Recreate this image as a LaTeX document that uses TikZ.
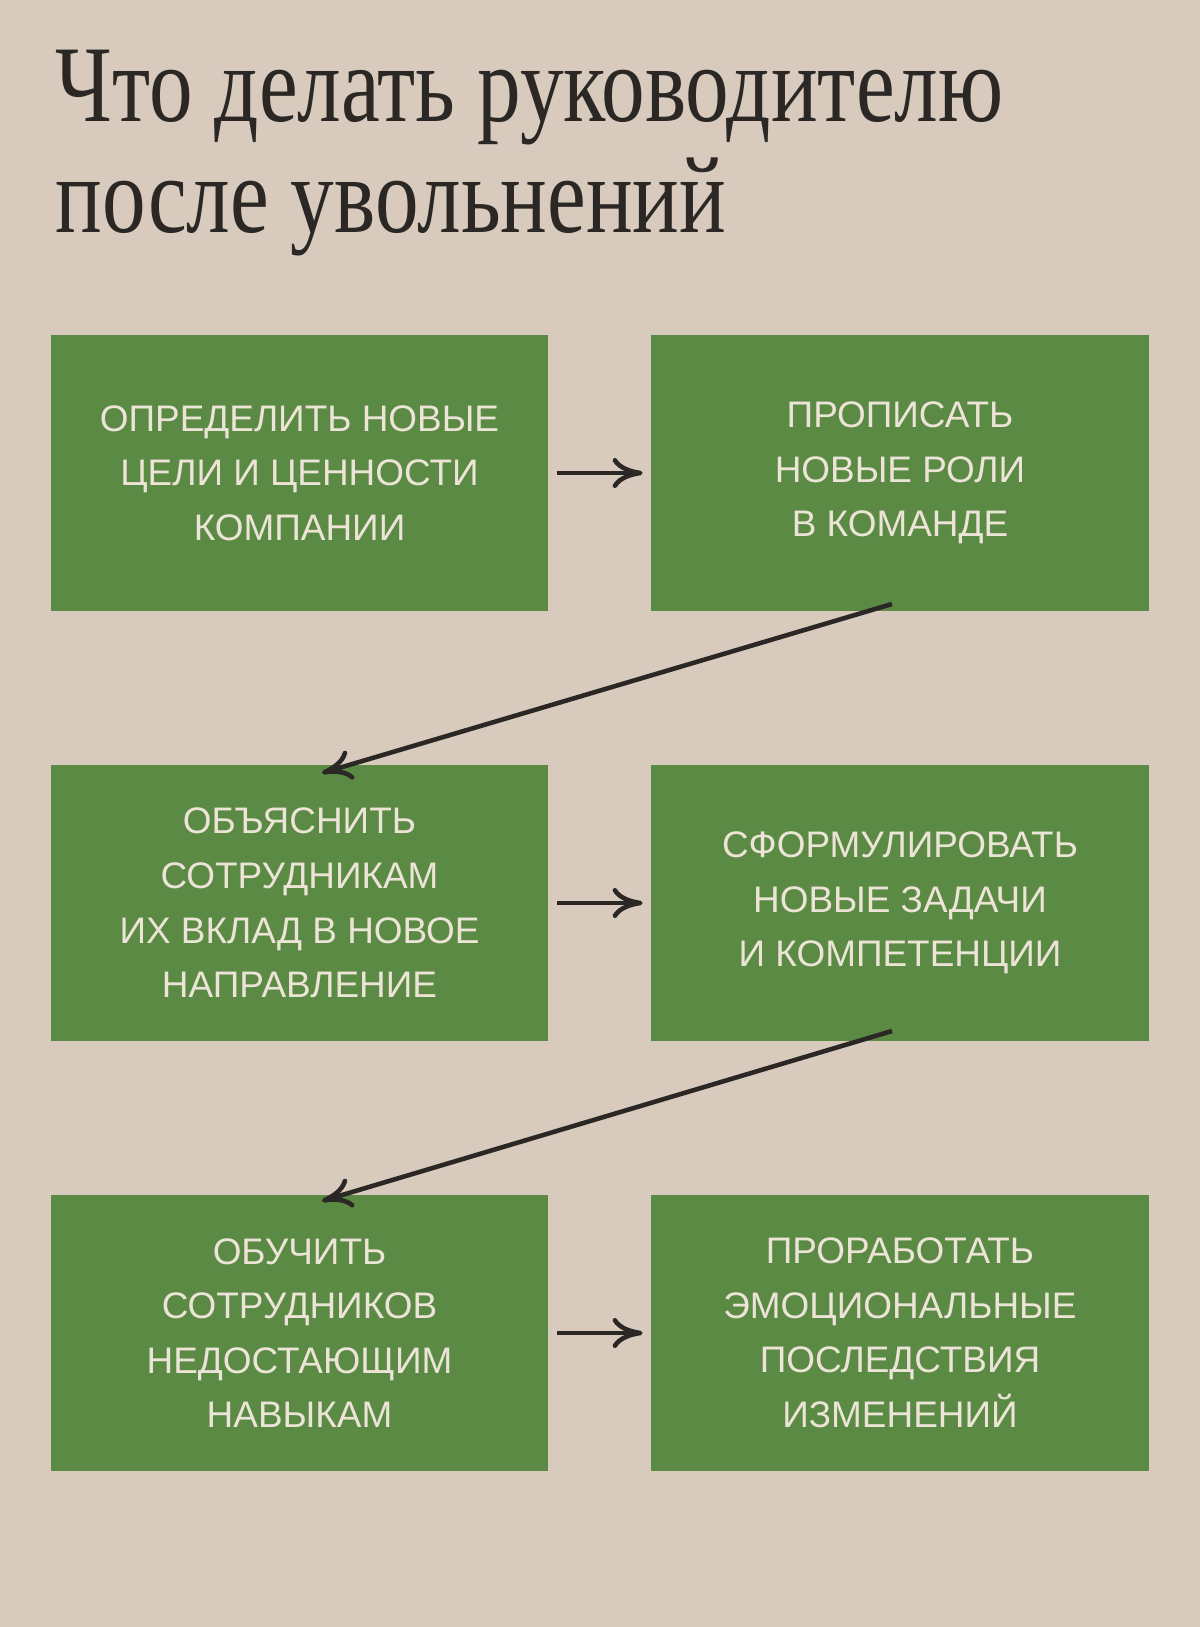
\documentclass[tikz,border=0pt]{standalone}
\usepackage{fontspec}
\setmainfont{Liberation Serif}
\setsansfont{Liberation Sans}
\usetikzlibrary{arrows.meta}
\definecolor{paper}{HTML}{D8CBBE}
\definecolor{leaf}{HTML}{5B8A45}
\definecolor{ink}{HTML}{2A2724}
\definecolor{cream}{HTML}{ECE4D6}
\tikzset{
  stage/.style={fill=leaf,minimum width=4.97cm,minimum height=2.76cm,inner sep=0pt,
    text=cream,align=center,font=\sffamily\fontsize{10.5}{15.5}\selectfont},
  link/.style={draw=ink,line width=1.3pt,-{To[length=3mm,width=3mm]}},
  headline/.style={anchor=west,text=ink,inner sep=0pt,font=\fontsize{31}{36}\selectfont}
}
\begin{document}
\begin{tikzpicture}[x=0.01cm,y=-0.01cm]
		\fill[paper] (0,0) rectangle (1200,1627);
		\useasboundingbox (0,0) rectangle (1200,1627);
		\node[headline] (title1) at (55,98) {\scalebox{0.8}[1]{Что делать руководителю}};
		\node[headline] (title2) at (55,207) {\scalebox{0.8}[1]{после увольнений}};
		% steps
		\node[stage] (goals) at (299.5,473) {ОПРЕДЕЛИТЬ НОВЫЕ\\ЦЕЛИ И ЦЕННОСТИ\\КОМПАНИИ};
		\node[stage] (roles) at (900,473) {ПРОПИСАТЬ\\НОВЫЕ РОЛИ\\В КОМАНДЕ};
		\node[stage] (explain) at (299.5,903) {ОБЪЯСНИТЬ\\СОТРУДНИКАМ\\ИХ ВКЛАД В НОВОЕ\\НАПРАВЛЕНИЕ};
		\node[stage] (tasks) at (900,903) {СФОРМУЛИРОВАТЬ\\НОВЫЕ ЗАДАЧИ\\И КОМПЕТЕНЦИИ};
		\node[stage] (train) at (299.5,1333) {ОБУЧИТЬ\\СОТРУДНИКОВ\\НЕДОСТАЮЩИМ\\НАВЫКАМ};
		\node[stage] (feel) at (900,1333) {ПРОРАБОТАТЬ\\ЭМОЦИОНАЛЬНЫЕ\\ПОСЛЕДСТВИЯ\\ИЗМЕНЕНИЙ};
		% arrows
		\coordinate (r1a) at (892,604);
		\coordinate (r1b) at (322,773);
		\coordinate (r2a) at (892,1031);
		\coordinate (r2b) at (322,1201);
		\draw[link] ([xshift=0.08cm]goals.east) -- ([xshift=-0.08cm]roles.west);
		\draw[link] ([xshift=0.08cm]explain.east) -- ([xshift=-0.08cm]tasks.west);
		\draw[link] ([xshift=0.08cm]train.east) -- ([xshift=-0.08cm]feel.west);
		\draw[link] (r1a) -- (r1b);
		\draw[link] (r2a) -- (r2b);
\end{tikzpicture}
\end{document}
